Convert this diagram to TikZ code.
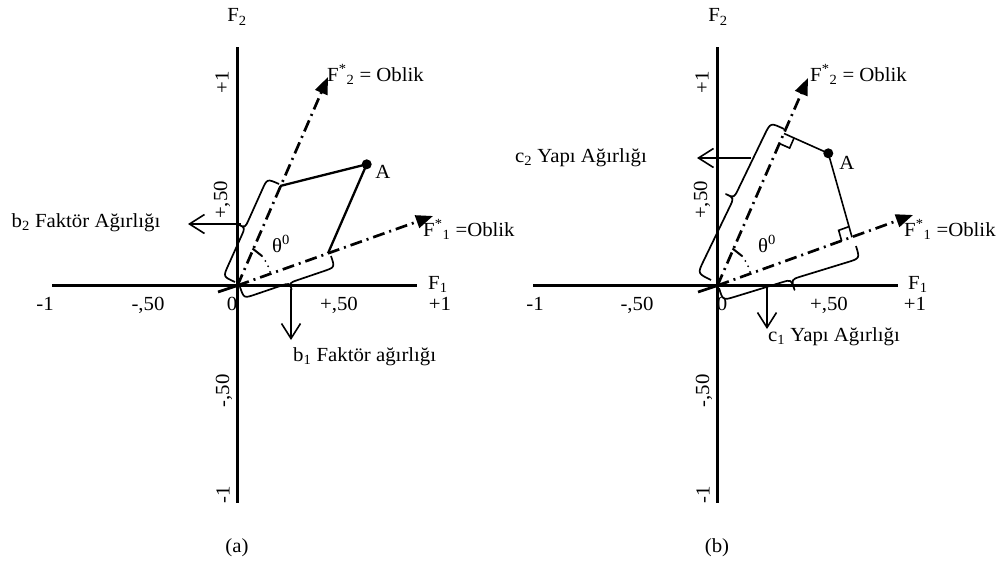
\documentclass[tikz,border=0pt]{standalone}
\usepackage{fontspec}
\setmainfont{Liberation Serif}[FakeStretch=1.04]
\usetikzlibrary{arrows.meta,calc}
% #1 start, #2 end, #3 body offset, #4 tip offset, #5 side angle, #6 end curl, #7 tip curl
\newcommand{\DrawBrace}[7]{%
  \coordinate (bS) at (#1);
  \coordinate (bE) at (#2);
  \coordinate (bM) at ($(bS)!0.5!(bE)$);
  \coordinate (bSn) at ($(bS)!#3!#5:(bE)$);
  \coordinate (bMn) at ($(bM)!#3!#5:(bE)$);
  \coordinate (bEn) at ($(bE)+(bSn)-(bS)$);
  \coordinate (bT) at ($(bM)!#4!#5:(bE)$);
  \coordinate (bS2) at ($(bSn)!#6!(bMn)$);
  \coordinate (bM1) at ($(bMn)!#7!(bSn)$);
  \coordinate (bM2) at ($(bMn)!#7!(bEn)$);
  \coordinate (bE2) at ($(bEn)!#6!(bMn)$);
  \draw[bracestyle] (bS) .. controls (bSn) .. (bS2) -- (bM1) .. controls (bMn) .. (bT)
     .. controls (bMn) .. (bM2) -- (bE2) .. controls (bEn) .. (bE);
}
\begin{document}
\begin{tikzpicture}[x=1pt,y=-1pt,
  axis/.style={line width=3.3pt},
  oblik/.style={line width=2.7pt, dash pattern=on 12pt off 5pt on 2pt off 5pt, -{Triangle[length=17pt,width=13pt]}},
  stub/.style={line width=2.7pt},
  para/.style={line width=2.3pt},
  proj/.style={line width=1.6pt},
  rightmark/.style={line width=1.6pt},
  bracestyle/.style={line width=1.7pt, line join=round},
  callout/.style={line width=1.6pt, -{Straight Barb[length=15pt,width=19pt]}},
  tickmark/.style={line width=2pt},
  dotline/.style={line width=2pt, line cap=round, dash pattern=on 0pt off 6pt},
  lbl/.style={inner sep=0pt, font=\fontsize{20pt}{23pt}\selectfont},
  vlbl/.style={lbl, rotate=90},
  ptdot/.style={circle, fill=black, inner sep=0pt, minimum size=10pt}
]
\useasboundingbox (0,0) rectangle (999,565);

% ================= Panel (a) =================
\coordinate (aO) at (237.5,285.5);
\coordinate (aVt) at (237.5,47);
\coordinate (aVb) at (237.5,503);
\coordinate (aHl) at (52,285.5);
\coordinate (aHr) at (417,285.5);
\draw[axis] (aVt) -- (aVb);
\draw[axis] (aHl) -- (aHr);

\coordinate (aT2) at (328,77);
\coordinate (aT1) at (433,216);
\coordinate (aStub) at (218,292);
\draw[stub] (aStub) -- (aO);
\draw[oblik] (aO) -- (aT2);
\draw[oblik] (aO) -- (aT1);

\coordinate (aP2) at (280,186);
\coordinate (aP1) at (328,253.3);
\node[ptdot] (aA) at (366.7,164.3) {};
\draw[para] (aA.center) -- (aP2);
\draw[para] (aA.center) -- (aP1);

% angle mark
\coordinate (aK1) at (252.5,248.5);
\coordinate (aK2) at (262,256);
\coordinate (aK3) at (270.5,273.8);
\draw[tickmark] (aK1) -- (aK2);
\draw[dotline] (aK2) to[bend left=12] (aK3);

% braces
\DrawBrace{235,282}{279,184}{13pt}{20pt}{90}{12pt}{9pt}
\DrawBrace{240,287}{331,256}{12pt}{19pt}{-90}{12pt}{9pt}

% callout arrows
\coordinate (aB2s) at (241,224);
\coordinate (aB2e) at (188,224);
\draw[callout] (aB2s) -- (aB2e);
\coordinate (aB1s) at (291,289);
\coordinate (aB1e) at (291,340);
\draw[callout] (aB1s) -- (aB1e);

% labels
\node[lbl] (aF2) at (237,17) {F\textsubscript{2}};
\node[lbl, anchor=base west] (aF1) at (428,289) {F\textsubscript{1}};
\node[lbl, anchor=base] (aXm1) at (45,310) {-1};
\node[lbl, anchor=base] (aXm5) at (148,310) {-,50};
\node[lbl, anchor=base] (aX0) at (232,310) {0};
\node[lbl, anchor=base] (aXp5) at (339,310) {+,50};
\node[lbl, anchor=base] (aXp1) at (440,310) {+1};
\node[vlbl] (aYp1) at (222,82) {+1};
\node[vlbl] (aYp5) at (222,200) {+,50};
\node[vlbl] (aYm5) at (224,391) {-,50};
\node[vlbl] (aYm1) at (223,495) {-1};
\node[lbl, anchor=base west] (aL2) at (327,81) {F\textsuperscript{*}\textsubscript{2} = Oblik};
\node[lbl, anchor=base west] (aL1) at (423,236) {F\textsuperscript{*}\textsubscript{1} =Oblik};
\node[lbl] (aTh) at (281,244) {θ\textsuperscript{0}};
\node[lbl] (aAl) at (383,172) {A};
\node[lbl] (aB2) at (86,223) {b\textsubscript{2} Faktör Ağırlığı};
\node[lbl, anchor=west] (aB1) at (293,357) {b\textsubscript{1} Faktör ağırlığı};
\node[lbl] (aCap) at (237,548) {(a)};

% ================= Panel (b) =================
\coordinate (bO) at (717.5,285.5);
\coordinate (bVt) at (717.5,47);
\coordinate (bVb) at (717.5,503);
\coordinate (bHl) at (533,285.5);
\coordinate (bHr) at (898,285.5);
\draw[axis] (bVt) -- (bVb);
\draw[axis] (bHl) -- (bHr);

\coordinate (bT2) at (808,78);
\coordinate (bT1) at (913,215);
\coordinate (bStub) at (698,292);
\draw[stub] (bStub) -- (bO);
\draw[oblik] (bO) -- (bT2);
\draw[oblik] (bO) -- (bT1);

\coordinate (bF2) at (784,133.5);
\coordinate (bF1) at (852,237.2);
\node[ptdot] (bA) at (828.3,153.3) {};
\draw[proj] (bA.center) -- (bF2);
\draw[proj] (bA.center) -- (bF1);

% right-angle marks
\coordinate (bq1) at ($(bF2)!11pt!(bA.center)$);
\coordinate (bq2) at ($(bF2)!11pt!(bO)$);
\coordinate (bq3) at ($(bq1)+(bq2)-(bF2)$);
\draw[rightmark] (bq1) -- (bq3) -- (bq2);
\coordinate (br1) at ($(bF1)!11pt!(bA.center)$);
\coordinate (br2) at ($(bF1)!11pt!(bO)$);
\coordinate (br3) at ($(br1)+(br2)-(bF1)$);
\draw[rightmark] (br1) -- (br3) -- (br2);

% angle mark
\coordinate (bK1) at (732.5,248.5);
\coordinate (bK2) at (742,256);
\coordinate (bK3) at (750.4,273.6);
\draw[tickmark] (bK1) -- (bK2);
\draw[dotline] (bK2) to[bend left=12] (bK3);

% braces
\DrawBrace{711,280}{784,129}{15pt}{24pt}{90}{14pt}{10pt}
\DrawBrace{719,288}{856,246}{13pt}{24pt}{-90}{13pt}{10pt}

% callout arrows
\coordinate (bC2s) at (751,158);
\coordinate (bC2e) at (697,158);
\draw[callout] (bC2s) -- (bC2e);
\coordinate (bC1s) at (767,286);
\coordinate (bC1e) at (767,329);
\draw[callout] (bC1s) -- (bC1e);

% labels
\node[lbl] (bF2l) at (718,17) {F\textsubscript{2}};
\node[lbl, anchor=base west] (bF1l) at (908,289) {F\textsubscript{1}};
\node[lbl, anchor=base] (bXm1) at (535,310) {-1};
\node[lbl, anchor=base] (bXm5) at (637,310) {-,50};
\node[lbl, anchor=base] (bX0) at (722,310) {0};
\node[lbl, anchor=base] (bXp5) at (829,310) {+,50};
\node[lbl, anchor=base] (bXp1) at (915,310) {+1};
\node[vlbl] (bYp1) at (702,82) {+1};
\node[vlbl] (bYp5) at (702,200) {+,50};
\node[vlbl] (bYm5) at (704,391) {-,50};
\node[vlbl] (bYm1) at (703,495) {-1};
\node[lbl, anchor=base west] (bL2) at (810,81) {F\textsuperscript{*}\textsubscript{2} = Oblik};
\node[lbl, anchor=base west] (bL1) at (904,236) {F\textsuperscript{*}\textsubscript{1} =Oblik};
\node[lbl] (bTh) at (767,244) {θ\textsuperscript{0}};
\node[lbl] (bAl) at (847,163) {A};
\node[lbl] (bC2) at (581,158) {c\textsubscript{2} Yapı Ağırlığı};
\node[lbl, anchor=west] (bC1) at (768,337) {c\textsubscript{1} Yapı Ağırlığı};
\node[lbl] (bCap) at (717,548) {(b)};
\end{tikzpicture}
\end{document}
